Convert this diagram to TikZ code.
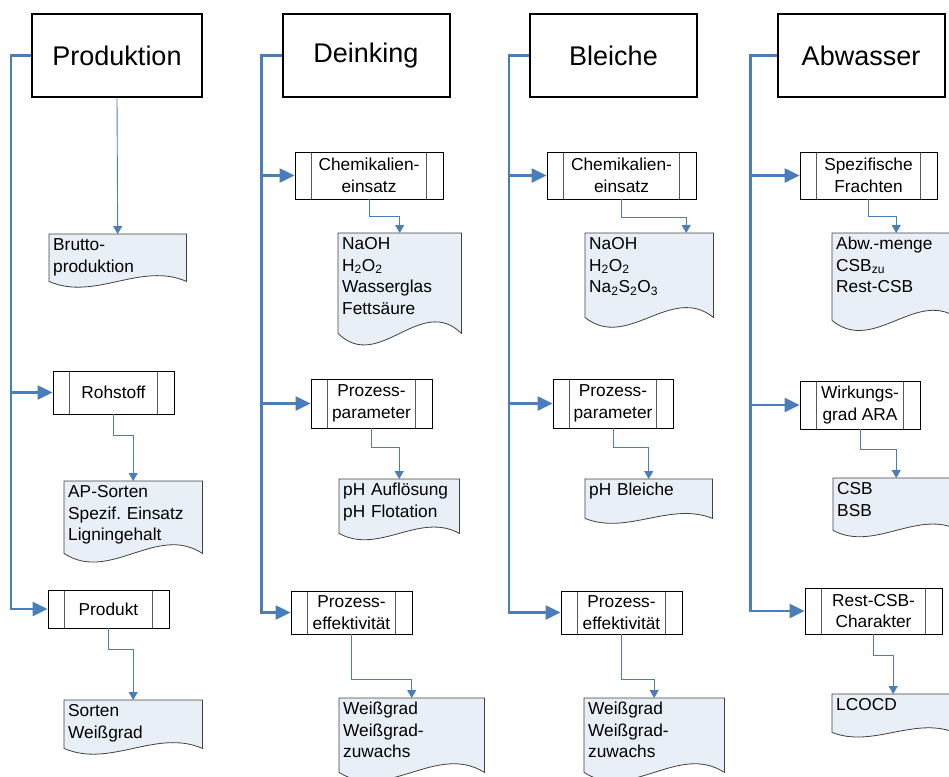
\documentclass[tikz,border=0pt]{standalone}
\usepackage{fontspec}
\setmainfont{Liberation Sans}
\frenchspacing
\usetikzlibrary{arrows.meta,backgrounds,calc}
\definecolor{busblue}{HTML}{4A7EBB}
\definecolor{docfill}{HTML}{E9EFF7}
\newcommand\headfont{\fontsize{27}{32}\selectfont}
\newcommand\procfont{\fontsize{17.3}{21.5}\selectfont}
\begin{document}
\begin{tikzpicture}[x=1pt,y=-1pt,
  headbox/.style={draw, line width=2pt, fill=white, minimum width=167, minimum height=83, font=\headfont},
  procbox/.style={draw, line width=0.8pt, fill=white, inner sep=0pt, align=center, font=\procfont,
    path picture={\draw[black!65, line width=0.8pt]
      ([xshift=16.5pt]path picture bounding box.north west) -- ([xshift=16.5pt]path picture bounding box.south west)
      ([xshift=-16.5pt]path picture bounding box.north east) -- ([xshift=-16.5pt]path picture bounding box.south east);}},
  docbox/.style={anchor=north west, align=left, inner xsep=4pt, inner ysep=2.5pt, text height=14pt, font=\procfont},
  docline/.style={draw=black!75, line width=0.8pt, fill=docfill},
  bus/.style={draw=busblue, line width=2.2pt},
  busarrow/.style={bus, -{Triangle[length=15pt,width=14pt]}},
  link/.style={draw=busblue, line width=0.9pt, -{Triangle[length=8pt,width=9pt]}}]
\useasboundingbox (0,0) rectangle (949,776);

% Kopfzeile
\node[headbox, minimum width=170] (prod) at (117,55.5) {Produktion};
\node[headbox] (dein) at (366,55.5) {Deinking};
\node[headbox] (bleiche) at (613.5,55.5) {Bleiche};
\node[headbox] (abw) at (861,55.5) {Abwasser};

% Produktion
\node[procbox, minimum width=121, minimum height=43] (rohstoff) at (113.5,392.5) {Rohstoff};
\node[procbox, minimum width=121, minimum height=38] (produkt) at (108.5,609) {Produkt};
\node[docbox, text width=129, text depth=28] (brutto) at (49,234) {Brutto-\\produktion};
\node[docbox, text width=130, text depth=53] (apdoc) at (64,481) {AP-Sorten\\Spezif. Einsatz\\Ligningehalt};
\node[docbox, text width=130, text depth=29] (sortdoc) at (64,700) {Sorten\\Weißgrad};

% Deinking
\node[procbox, minimum width=148, minimum height=47] (dchem) at (369,175.5) {Chemikalien-\\einsatz};
\node[procbox, minimum width=121, minimum height=49] (dparam) at (371.5,403.5) {Prozess-\\parameter};
\node[procbox, minimum width=121, minimum height=43] (deff) at (351.5,612.5) {Prozess-\\effektivität};
\node[docbox, text width=115, text depth=81] (dchemdoc) at (338,233) {NaOH\\H\textsubscript{2}O\textsubscript{2}\\Wasserglas\\Fettsäure};
\node[docbox, text width=112, text depth=35] (dparamdoc) at (339,479) {pH Auflösung\\pH Flotation};
\node[docbox, text width=137, text depth=55] (deffdoc) at (339,698) {Weißgrad\\Weißgrad-\\zuwachs};

% Bleiche
\node[procbox, minimum width=149, minimum height=47] (bchem) at (621.5,175.5) {Chemikalien-\\einsatz};
\node[procbox, minimum width=120, minimum height=49] (bparam) at (613,403.5) {Prozess-\\parameter};
\node[procbox, minimum width=121, minimum height=43] (beff) at (621.5,612.5) {Prozess-\\effektivität};
\node[docbox, text width=120, text depth=65] (bchemdoc) at (585,233) {NaOH\\H\textsubscript{2}O\textsubscript{2}\\Na\textsubscript{2}S\textsubscript{2}O\textsubscript{3}};
\node[docbox, text width=119, text depth=20] (bparamdoc) at (585,479) {pH Bleiche};
\node[docbox, text width=132, text depth=55] (beffdoc) at (584,698) {Weißgrad\\Weißgrad-\\zuwachs};

% Abwasser
\node[procbox, minimum width=137, minimum height=47] (aspez) at (868.5,175.5) {Spezifische\\Frachten};
\node[procbox, minimum width=120, minimum height=48] (awirk) at (860,405) {Wirkungs-\\grad ARA};
\node[procbox, minimum width=137, minimum height=46] (arest) at (873.5,611) {Rest-CSB-\\Charakter};
\node[docbox, text width=120, text depth=68] (aspezdoc) at (832,233) {Abw.-menge\\CSB\textsubscript{zu}\\Rest-CSB};
\node[docbox, text width=118, text depth=33] (awirkdoc) at (833,478) {CSB\\BSB};
\node[docbox, text width=114, text depth=19] (arestdoc) at (832,694) {LCOCD};

% Dokument-Umrisse mit Wellenkante
\begin{scope}[on background layer]
  \foreach \d/\a in {brutto/20, apdoc/30, sortdoc/20, dchemdoc/40, dparamdoc/22, deffdoc/30,
      bchemdoc/34, bparamdoc/17, beffdoc/30, aspezdoc/35, awirkdoc/22, arestdoc/16}
    \draw[docline] (\d.north west) -- (\d.north east) -- (\d.south east)
      .. controls ($(\d.south east)!0.33!(\d.south west)+(0,-\a)$) and ($(\d.south east)!0.67!(\d.south west)+(0,\a)$) .. (\d.south west) -- cycle;
\end{scope}

% Sammelschienen
\draw[busarrow] (prod.west) -- ++(-20,0) coordinate (pbus) |- (produkt.west);
\draw[busarrow] (pbus |- rohstoff.west) -- (rohstoff.west);
\draw[busarrow] (dein.west) -- ++(-20,0) coordinate (dbus) |- (deff.west);
\draw[busarrow] (dbus |- dchem.west) -- (dchem.west);
\draw[busarrow] (dbus |- dparam.west) -- (dparam.west);
\draw[busarrow] (bleiche.west) -- ++(-20,0) coordinate (bbus) |- (beff.west);
\draw[busarrow] (bbus |- bchem.west) -- (bchem.west);
\draw[busarrow] (bbus |- bparam.west) -- (bparam.west);
\draw[busarrow] (abw.west) -- ++(-26,0) coordinate (abus) |- (arest.west);
\draw[busarrow] (abus |- aspez.west) -- (aspez.west);
\draw[busarrow] (abus |- awirk.west) -- (awirk.west);

% Verbinder zu den Dokumenten
\draw[link] (prod.south) -- (brutto.north);
\draw[link] (rohstoff.south) -- ++(0,21) -| (apdoc.north);
\draw[link] (produkt.south) -- ++(0,21) -| (sortdoc.north);
\draw[link] (dchem.south) -- ++(0,17) -| (dchemdoc.north);
\draw[link] (dparam.south) -- ++(0,19) -| (dparamdoc.north);
\draw[link] (deff.south) -- ++(0,45) -| (deffdoc.north);
\draw[link] (bchem.south) -- ++(0,18) -| ([xshift=37pt]bchemdoc.north);
\draw[link] (bparam.south) -- ++(0,19) -| (bparamdoc.north);
\draw[link] (beff.south) -- ++(0,45) -| (beffdoc.north);
\draw[link] (aspez.south) -- ++(0,17) -| (aspezdoc.north);
\draw[link] (awirk.south) -- ++(0,20) -| (awirkdoc.north);
\draw[link] (arest.south) -- ++(0,21) -| (arestdoc.north);
\end{tikzpicture}
\end{document}
